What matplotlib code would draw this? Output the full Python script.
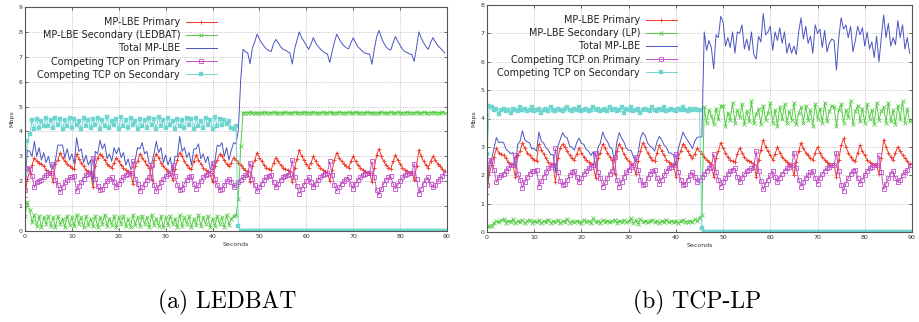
import numpy as np
import matplotlib.pyplot as plt

# sample times (s), one sample every half second
seconds = np.arange(0, 90, 0.5)

# MP-LBE on the primary path (same behaviour in both runs)
primary = [
    1.35, 2.10, 2.35, 2.65, 2.95, 2.80, 2.75, 2.70, 2.60, 2.45,
    2.40, 2.35, 1.95, 2.70, 2.85, 3.15, 2.95, 2.80, 2.70, 2.60,
    2.55, 2.50, 3.10, 2.90, 2.75, 2.60, 2.45, 2.40, 2.35, 1.75,
    2.60, 2.95, 3.10, 3.00, 2.85, 2.70, 2.60, 2.55, 2.75, 2.95,
    2.80, 2.65, 2.55, 2.45, 2.40, 2.35, 1.90, 2.60, 2.80, 3.10,
    2.95, 2.80, 2.65, 2.55, 2.05, 2.85, 3.10, 2.95, 2.75, 2.60,
    2.50, 2.40, 2.35, 2.05, 2.50, 2.85, 3.15, 3.00, 2.80, 2.65,
    2.55, 2.50, 2.80, 3.05, 2.85, 2.70, 2.55, 2.45, 2.40, 2.35,
    1.95, 2.60, 2.85, 3.10, 3.00, 2.85, 2.70, 2.60, 2.75, 2.95,
    2.85, 2.75, 2.65, 2.55, 2.45, 2.40, 1.95, 2.60, 2.85, 3.15,
    2.95, 2.80, 2.65, 2.55, 2.50, 2.45, 2.75, 2.95, 2.80, 2.65,
    2.55, 2.50, 2.45, 2.40, 1.95, 2.55, 2.90, 3.25, 3.00, 2.85,
    2.70, 2.55, 2.75, 3.00, 2.80, 2.65, 2.55, 2.45, 2.40, 2.35,
    2.00, 2.45, 2.85, 3.15, 2.95, 2.80, 2.70, 2.60, 2.55, 2.80,
    3.00, 2.80, 2.65, 2.55, 2.45, 2.40, 2.35, 2.35, 1.95, 2.55,
    3.05, 3.30, 3.00, 2.80, 2.65, 2.55, 2.50, 2.80, 3.05, 2.85,
    2.70, 2.55, 2.45, 2.40, 2.35, 2.35, 2.05, 2.60, 3.25, 3.00,
    2.80, 2.65, 2.55, 2.80, 3.00, 2.85, 2.70, 2.60, 2.50, 2.40,
]

# competing TCP on the primary path
competing_primary = [
    1.65, 2.55, 2.50, 2.20, 1.75, 1.95, 2.00, 2.05, 2.15, 2.25,
    2.35, 2.35, 2.70, 2.05, 1.85, 1.55, 1.75, 1.95, 2.05, 2.15,
    2.15, 2.20, 1.60, 1.80, 1.95, 2.10, 2.25, 2.30, 2.35, 2.95,
    2.10, 1.80, 1.65, 1.70, 1.85, 2.00, 2.10, 2.15, 1.95, 1.75,
    1.90, 2.05, 2.15, 2.25, 2.30, 2.35, 2.80, 2.10, 1.90, 1.60,
    1.75, 1.90, 2.05, 2.15, 2.65, 1.85, 1.60, 1.75, 1.95, 2.10,
    2.20, 2.30, 2.35, 2.65, 2.20, 1.85, 1.65, 1.70, 1.90, 2.05,
    2.15, 2.20, 1.90, 1.70, 1.85, 2.00, 2.15, 2.25, 2.30, 2.35,
    2.75, 2.10, 1.85, 1.65, 1.70, 1.85, 2.00, 2.10, 1.95, 1.75,
    1.85, 1.95, 2.05, 2.15, 2.25, 2.30, 2.75, 2.10, 1.85, 1.60,
    1.75, 1.90, 2.05, 2.15, 2.20, 2.25, 1.95, 1.75, 1.90, 2.05,
    2.15, 2.20, 2.25, 2.30, 2.85, 2.15, 1.80, 1.50, 1.70, 1.85,
    2.00, 2.15, 1.95, 1.75, 1.90, 2.05, 2.15, 2.25, 2.30, 2.35,
    2.80, 2.25, 1.85, 1.60, 1.75, 1.90, 2.00, 2.10, 2.15, 1.90,
    1.70, 1.90, 2.05, 2.15, 2.25, 2.30, 2.35, 2.35, 2.80, 2.15,
    1.65, 1.45, 1.70, 1.90, 2.05, 2.15, 2.20, 1.90, 1.70, 1.85,
    2.00, 2.15, 2.25, 2.30, 2.35, 2.35, 2.70, 2.10, 1.50, 1.70,
    1.90, 2.05, 2.15, 1.90, 1.75, 1.85, 2.00, 2.10, 2.20, 2.35,
]

# (a) LEDBAT on the secondary path
ledbat_secondary = [
    0.60, 1.15, 0.85, 0.35, 0.65, 0.20, 0.60, 0.15, 0.55, 0.30,
    0.60, 0.20, 0.55, 0.15, 0.60, 0.30, 0.50, 0.15, 0.60, 0.25,
    0.55, 0.20, 0.65, 0.30, 0.55, 0.15, 0.60, 0.25, 0.50, 0.20,
    0.60, 0.15, 0.55, 0.30, 0.65, 0.20, 0.50, 0.25, 0.60, 0.15,
    0.55, 0.30, 0.60, 0.20, 0.50, 0.15, 0.65, 0.25, 0.55, 0.20,
    0.60, 0.30, 0.55, 0.15, 0.65, 0.25, 0.50, 0.20, 0.60, 0.15,
    0.55, 0.25, 0.60, 0.30, 0.50, 0.15, 0.65, 0.20, 0.55, 0.30,
    0.60, 0.15, 0.50, 0.25, 0.65, 0.20, 0.55, 0.30, 0.60, 0.15,
    0.50, 0.20, 0.60, 0.30, 0.55, 0.15, 0.65, 0.25, 0.50, 0.60,
    0.65, 1.30, 3.40, 4.75, 4.76, 4.75, 4.77, 4.76, 4.75, 4.76,
    4.76, 4.75, 4.77, 4.76, 4.75, 4.76, 4.77, 4.75, 4.76, 4.76,
    4.75, 4.77, 4.76, 4.75, 4.76, 4.77, 4.76, 4.75, 4.76, 4.77,
    4.76, 4.75, 4.76, 4.77, 4.75, 4.76, 4.76, 4.77, 4.75, 4.76,
    4.77, 4.76, 4.75, 4.76, 4.77, 4.76, 4.75, 4.76, 4.77, 4.75,
    4.76, 4.77, 4.75, 4.76, 4.76, 4.75, 4.77, 4.76, 4.75, 4.76,
    4.75, 4.76, 4.77, 4.76, 4.75, 4.76, 4.77, 4.75, 4.76, 4.77,
    4.76, 4.75, 4.76, 4.77, 4.76, 4.75, 4.76, 4.77, 4.75, 4.76,
    4.77, 4.76, 4.75, 4.76, 4.77, 4.75, 4.76, 4.76, 4.77, 4.75,
]

ledbat_competing_secondary = [
    2.30, 3.60, 3.90, 4.45, 4.10, 4.50, 4.15, 4.40, 4.20, 4.55,
    4.20, 4.45, 4.15, 4.55, 4.25, 4.50, 4.10, 4.45, 4.20, 4.55,
    4.15, 4.50, 4.25, 4.40, 4.10, 4.55, 4.20, 4.45, 4.15, 4.50,
    4.25, 4.55, 4.10, 4.45, 4.20, 4.60, 4.15, 4.40, 4.25, 4.50,
    4.10, 4.60, 4.20, 4.45, 4.15, 4.55, 4.25, 4.40, 4.10, 4.50,
    4.20, 4.45, 4.15, 4.55, 4.25, 4.50, 4.10, 4.60, 4.20, 4.45,
    4.15, 4.55, 4.25, 4.40, 4.10, 4.50, 4.20, 4.45, 4.15, 4.55,
    4.25, 4.50, 4.10, 4.55, 4.20, 4.40, 4.15, 4.55, 4.25, 4.45,
    4.10, 4.60, 4.20, 4.50, 4.25, 4.45, 4.30, 4.40, 4.15, 4.10,
    4.20, 0.20] + [0.0] * 88

# (b) TCP-LP on the secondary path
lp_secondary = [
    0.22, 0.20, 0.22, 0.32, 0.38, 0.35, 0.42, 0.45, 0.33, 0.40,
    0.36, 0.45, 0.30, 0.38, 0.35, 0.42, 0.30, 0.38, 0.44, 0.33,
    0.40, 0.35, 0.42, 0.30, 0.38, 0.36, 0.44, 0.32, 0.38, 0.35,
    0.42, 0.30, 0.40, 0.36, 0.46, 0.33, 0.38, 0.34, 0.40, 0.36,
    0.32, 0.44, 0.36, 0.40, 0.30, 0.48, 0.35, 0.38, 0.33, 0.42,
    0.36, 0.40, 0.34, 0.38, 0.44, 0.32, 0.40, 0.36, 0.42, 0.35,
    0.38, 0.48, 0.30, 0.42, 0.28, 0.45, 0.36, 0.40, 0.34, 0.38,
    0.42, 0.35, 0.38, 0.32, 0.40, 0.36, 0.44, 0.34, 0.38, 0.36,
    0.40, 0.33, 0.38, 0.42, 0.35, 0.37, 0.40, 0.34, 0.45, 0.38,
    0.50, 0.60, 4.40, 3.85, 4.30, 4.10, 3.80, 4.35, 4.00, 4.45,
    4.45, 3.75, 4.20, 3.95, 4.55, 3.85, 4.30, 4.05, 4.50, 3.80,
    4.25, 3.90, 4.60, 3.85, 4.15, 4.35, 3.80, 4.45, 3.95, 4.20,
    4.55, 3.85, 4.30, 3.75, 4.40, 4.00, 4.50, 3.85, 4.25, 3.95,
    4.55, 3.80, 4.20, 4.40, 3.85, 4.45, 3.95, 4.30, 3.75, 4.50,
    4.00, 4.35, 3.85, 4.55, 3.90, 4.25, 4.45, 4.40, 3.75, 4.30,
    4.50, 3.85, 4.30, 4.05, 4.60, 3.80, 4.25, 4.45, 3.90, 4.35,
    3.85, 4.50, 4.00, 4.30, 3.80, 4.55, 3.95, 4.25, 4.40, 3.85,
    4.55, 3.90, 4.30, 3.80, 4.45, 4.00, 4.60, 3.85, 4.35, 3.90,
]

lp_competing_secondary = [
    2.75, 4.45, 4.40, 4.30, 4.35, 4.15, 4.30, 4.35, 4.25, 4.30,
    4.20, 4.35, 4.30, 4.25, 4.40, 4.30, 4.35, 4.25, 4.30, 4.40,
    4.25, 4.30, 4.35, 4.20, 4.30, 4.35, 4.25, 4.40, 4.30, 4.25,
    4.35, 4.30, 4.25, 4.35, 4.40, 4.30, 4.25, 4.35, 4.30, 4.40,
    4.25, 4.30, 4.35, 4.25, 4.30, 4.40, 4.30, 4.35, 4.25, 4.30,
    4.35, 4.25, 4.40, 4.30, 4.35, 4.25, 4.30, 4.40, 4.20, 4.35,
    4.30, 4.40, 4.25, 4.30, 4.35, 4.20, 4.30, 4.35, 4.30, 4.25,
    4.40, 4.30, 4.25, 4.35, 4.30, 4.40, 4.25, 4.30, 4.35, 4.30,
    4.25, 4.35, 4.30, 4.40, 4.30, 4.25, 4.35, 4.30, 4.35, 4.30,
    4.30, 0.15] + [0.0] * 88

panels = [
    ('LEDBAT', ledbat_secondary, ledbat_competing_secondary, 9,
     [25 / 919, 91 / 322, 422 / 919, 224 / 322], 0.47, '(a) LEDBAT', 227),
    ('LP', lp_secondary, lp_competing_secondary, 8,
     [487 / 919, 90 / 322, 425 / 919, 227 / 322], 0.462, '(b) TCP-LP', 697),
]

fig = plt.figure(figsize=(9.19, 3.22), dpi=100)

for name, secondary, comp_sec, ymax, rect, leg_x, caption, cap_x in panels:
    ax = fig.add_axes(rect)
    total = np.array(primary) + np.array(secondary)
    lw = 0.7
    ax.plot(seconds, primary, color='#f03a28', lw=lw, marker='+', ms=3.2,
            mew=0.6, label='MP-LBE Primary')
    ax.plot(seconds, secondary, color='#55cc44', lw=lw, marker='x', ms=2.4,
            mew=0.6, label='MP-LBE Secondary (%s)' % name)
    ax.plot(seconds, total, color='#4a55c0', lw=lw, label='Total MP-LBE')
    ax.plot(seconds, competing_primary, color='#c24fc8', lw=lw, marker='s',
            ms=2.5, mew=0.6, mfc='none', label='Competing TCP on Primary')
    ax.plot(seconds, comp_sec, color='#6fd6cf', lw=lw, marker='s', ms=2.3,
            mew=0.3, label='Competing TCP on Secondary')

    ax.set_xlim(0, 90)
    ax.set_ylim(0, ymax)
    ax.set_xticks(range(0, 91, 10))
    ax.set_yticks(range(0, ymax + 1))
    ax.grid(True, color='#b0b0b0', ls=':', lw=0.6)
    ax.tick_params(direction='in', top=True, right=True, length=2.5,
                   width=0.5, labelsize=4.5, pad=2, colors='#333333')
    for s in ax.spines.values():
        s.set_color('#555555')
        s.set_linewidth(0.8)
    ax.set_xlabel('Seconds', fontsize=4.5, labelpad=2, color='#333333')
    ax.set_ylabel('Mbps', fontsize=4.5, labelpad=3, color='#333333')

    leg = ax.legend(loc='upper right', bbox_to_anchor=(leg_x, 0.985),
                    frameon=False, markerfirst=False, fontsize=6.9,
                    handlelength=3.2, handletextpad=0.6, labelspacing=0.33,
                    borderpad=0.2, numpoints=1)
    for t in leg.get_texts():
        t.set_color('#222222')

    fig.text(cap_x / 919, 1 - 302 / 322, caption, family='cmr10',
             fontsize=17, ha='center', va='center')

fig.savefig('out.png', dpi=100)
